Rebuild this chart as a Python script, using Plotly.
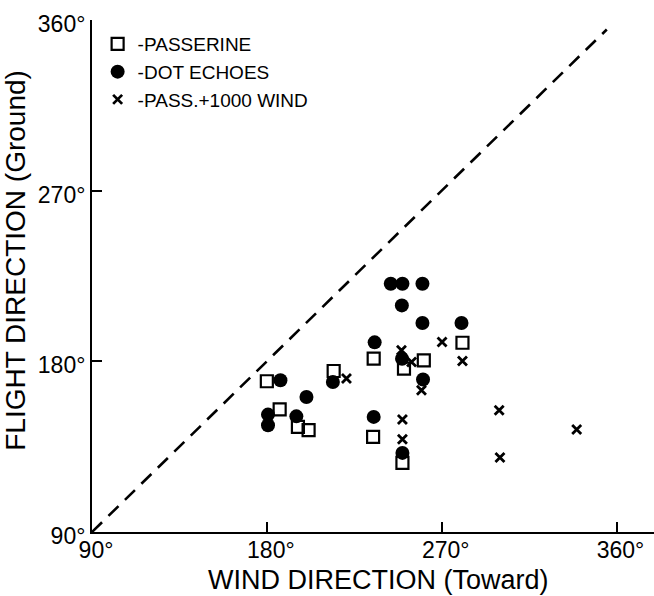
import plotly.graph_objects as go

# Passerine (open squares)
passerine_wind = [180.0, 186.6, 196.0, 201.5, 214.4, 235.0, 234.7, 250.6, 260.8, 280.7, 249.8]
passerine_flight = [169.5, 154.7, 145.4, 143.7, 174.9, 181.4, 140.2, 176.2, 180.5, 189.8, 126.5]

# Dot echoes (filled circles)
dot_wind = [243.8, 249.8, 260.1, 249.5, 260.1, 280.2, 235.5, 249.6, 260.4, 214.0,
            187.0, 200.4, 180.6, 180.6, 195.2, 235.0, 249.8]
dot_flight = [220.9, 220.9, 220.9, 209.5, 200.2, 200.2, 190.0, 181.4, 170.4, 169.1,
              170.0, 161.2, 151.9, 146.3, 151.0, 150.7, 131.7]

# Passerine + 1000 m wind (x)
pw_wind = [221.0, 249.3, 254.5, 270.2, 280.7, 259.6, 249.8, 249.8, 299.6, 339.5, 300.0]
pw_flight = [170.9, 185.8, 179.6, 190.2, 180.2, 164.7, 149.3, 138.9, 154.2, 144.0, 129.3]

# Reference line (flight = wind)
diag = [90, 355]

tick_vals = [90, 180, 270, 360]
tick_text = ["90°", "180°", "270°", "360°"]

FONT = "Liberation Sans, Arial, Helvetica, sans-serif"

fig = go.Figure()

fig.add_trace(go.Scatter(
    x=diag, y=diag, mode="lines", showlegend=False, hoverinfo="skip",
    line=dict(color="black", width=2.6, dash="14px,9px"),
))

fig.add_trace(go.Scatter(
    x=passerine_wind, y=passerine_flight, mode="markers", name="-PASSERINE",
    marker=dict(symbol="square-open", size=12, color="black", line=dict(width=2.2, color="black")),
))
fig.add_trace(go.Scatter(
    x=dot_wind, y=dot_flight, mode="markers", name="-DOT ECHOES",
    marker=dict(symbol="circle", size=14, color="black"),
))
fig.add_trace(go.Scatter(
    x=pw_wind, y=pw_flight, mode="markers", name="-PASS.+1000 WIND",
    marker=dict(symbol="x-thin", size=9, color="black", line=dict(width=2.8, color="black")),
))

axis_common = dict(
    showgrid=False, zeroline=False, showline=True, linecolor="black", linewidth=2,
    ticks="inside", ticklen=10, tickwidth=2, tickcolor="black",
    tickmode="array", tickvals=tick_vals, ticktext=tick_text,
    tickfont=dict(family=FONT, size=23, color="black"),
)

fig.update_layout(
    width=654, height=596,
    margin=dict(l=92, r=0, t=20, b=64),
    paper_bgcolor="white", plot_bgcolor="white",
    font=dict(family=FONT, color="black"),
    xaxis=dict(range=[90, 379.3], ticklabelstandoff=-4, ticklabelshift=4, **axis_common),
    yaxis=dict(range=[90, 360], ticklabelshift=4, **axis_common),
    legend=dict(x=0.01, y=0.99, xanchor="left", yanchor="top",
                font=dict(family=FONT, size=19, color="black"),
                bgcolor="rgba(0,0,0,0)", tracegroupgap=0, itemwidth=30),
    annotations=[
        dict(text="FLIGHT DIRECTION (Ground)", textangle=-90, showarrow=False,
             xref="paper", yref="paper", x=-0.135, y=0.53, xanchor="center", yanchor="middle",
             font=dict(family=FONT, size=28, color="black")),
        dict(text="WIND DIRECTION (Toward)", showarrow=False,
             xref="paper", yref="paper", x=0.51, y=-0.125, xanchor="center", yanchor="bottom",
             borderpad=0,
             font=dict(family=FONT, size=27, color="black")),
    ],
)

fig.write_html("out.html")
